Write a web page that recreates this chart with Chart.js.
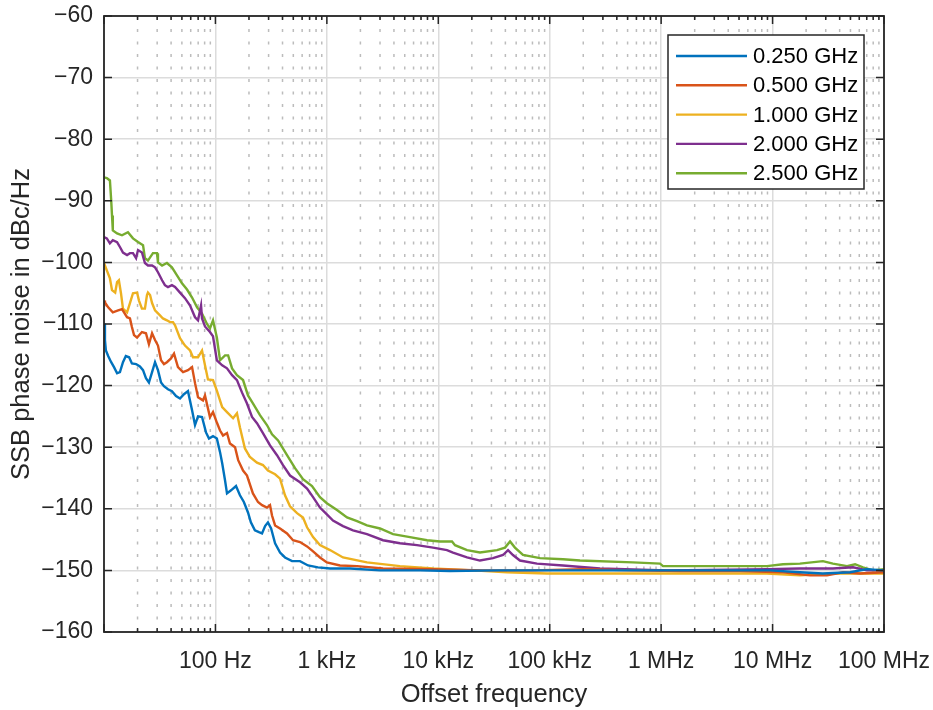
<!DOCTYPE html>
<html>
<head>
<meta charset="utf-8">
<script src="https://cdn.jsdelivr.net/npm/chart.js@4.4.0/dist/chart.umd.min.js"></script>
<style>
  html, body { margin: 0; padding: 0; background: #ffffff; }
  #wrap { width: 933px; height: 710px; }
</style>
</head>
<body>
<div id="wrap"><canvas id="c" width="933" height="710"></canvas></div>
<script>
// ---------------- data ----------------
const seriesLabels = ['0.250 GHz', '0.500 GHz', '1.000 GHz', '2.000 GHz', '2.500 GHz'];
const seriesColors = ['#0072BD', '#D95319', '#EDB120', '#7E2F8E', '#77AC30'];

const freq025 = [10,10.2,10.4,10.9,11.6,12.3,13.1,13.9,14.8,15.7,16.8,17.8,19.4,21.0,22.4,23.8,25.3,27.0,28.7,30.5,32.5,34.5,37.5,40.7,44.3,48.1,52.2,56.7,61.7,65.6,69.8,75.8,82.3,87.5,95.1,103,110,115,122,127,138,153,166,180,196,208,226,246,262,279,296,316,343,380,421,487,574,678,832,1067,1614,3000,6855,12740,35810,123600,427600,1.48e6,5.1e6,9.5e6,1.76e7,2.83e7,4.95e7,7.03e7,1e8];
const val025  = [-109.9,-112.6,-114.3,-115.2,-116.2,-117.0,-118.0,-117.8,-116.2,-115.2,-115.4,-116.4,-116.5,-116.9,-117.5,-118.8,-119.5,-117.8,-116.2,-117.5,-119.5,-120.1,-120.6,-120.9,-121.7,-122.1,-121.4,-120.9,-124.0,-126.4,-125.0,-125.1,-127.6,-128.6,-128.2,-128.6,-130.8,-132.6,-135.4,-137.5,-137.0,-136.3,-137.8,-138.9,-140.6,-142.2,-143.5,-143.8,-144.0,-142.8,-142.2,-143.2,-145.6,-147.1,-147.9,-148.5,-148.5,-149.2,-149.5,-149.7,-149.7,-150.0,-150.0,-150.1,-150.0,-150.0,-150.0,-150.0,-150.0,-150.0,-150.3,-150.5,-150.3,-149.8,-150.0];

const freq05 = [10,10.2,10.9,12.0,13.4,14.5,16.1,17.1,17.8,18.6,19.8,21.9,23.8,25.3,27.0,28.7,30.5,32.5,34.5,36.7,39.9,42.5,46.1,51.2,56.7,61.7,65.6,69.8,77.3,80.6,89.3,95.1,103,110,117,127,135,150,160,177,192,217,241,262,290,309,322,343,380,439,497,574,664,752,867,1000,1312,1866,3192,8974,25180,70800,199000,558500,1.48e6,5.1e6,1.24e7,2.17e7,3.08e7,4.29e7,6.1e7,1e8];
const val05  = [-106.2,-106.5,-107.3,-108.1,-107.8,-107.6,-108.9,-109.1,-110.5,-111.8,-112.2,-111.3,-111.5,-113.3,-111.5,-112.6,-113.5,-115.9,-116.5,-116.2,-115.6,-114.8,-117.0,-117.8,-117.5,-117.0,-119.6,-121.9,-122.4,-121.6,-125.1,-124.3,-126.0,-127.3,-128.1,-127.7,-129.4,-130.0,-132.1,-133.8,-134.6,-137.5,-138.9,-139.4,-139.8,-139.4,-141.1,-142.7,-143.2,-144.0,-145.1,-145.4,-146.1,-146.9,-147.9,-148.7,-149.2,-149.3,-149.7,-149.8,-150.0,-150.0,-149.8,-150.0,-150.1,-150.1,-150.3,-150.8,-150.8,-150.3,-150.5,-150.3];

const freq1 = [10,10.6,11.3,11.8,12.6,13.1,13.6,14.2,14.8,16.1,17.1,18.2,19.8,20.6,21.9,23.3,24.3,24.8,25.9,27.0,28.7,31.8,33.8,36.7,39.1,41.6,43.4,48.1,53.3,59.2,62.9,69.8,75.8,80.6,85.7,95.1,103,115,127,144,156,166,184,204,236,267,296,343,380,421,467,540,611,664,752,867,1067,1396,2291,4530,8974,20510,41400,94600,282600,2.23e6,8.91e6,1.76e7,3.48e7,1e8];
const val1  = [-100.1,-101.3,-102.6,-104.5,-104.9,-103.2,-102.9,-105.0,-107.5,-108.1,-106.6,-105.0,-104.9,-106.2,-107.5,-107.5,-105.3,-104.9,-105.3,-106.6,-107.8,-108.6,-109.1,-109.4,-109.7,-109.7,-110.2,-112.3,-113.5,-114.3,-115.4,-115.4,-114.3,-116.7,-119.0,-119.1,-120.8,-123.5,-124.3,-125.3,-124.5,-126.8,-130.2,-131.6,-132.5,-132.9,-133.8,-134.4,-135.1,-137.8,-139.6,-140.7,-141.4,-143.0,-144.6,-145.9,-146.7,-147.9,-148.7,-149.3,-149.7,-150.0,-150.3,-150.5,-150.5,-150.5,-150.5,-150.8,-150.5,-150.5];

const freq2 = [10,10.6,11.3,12.0,13.1,13.9,14.8,16.1,17.1,18.2,19.4,20.2,21.9,23.3,24.8,27.0,28.7,30.5,33.2,35.2,37.5,40.7,43.4,48.1,53.3,59.2,65.6,69.8,74.3,75.8,80.6,89.3,95.1,103,115,127,141,156,173,192,213,236,267,309,357,404,467,574,664,752,867,1000,1135,1396,1717,2291,3192,4530,6442,8974,11970,13550,18110,23660,30970,38100,42270,46770,54080,76900,131600,282600,1.13e6,8.91e6,1.76e7,3.48e7,5.27e7,7.03e7,1e8];
const val2  = [-95.9,-96.1,-96.9,-96.4,-96.7,-97.5,-98.4,-98.8,-98.5,-98.5,-99.3,-98.0,-98.4,-100.1,-100.5,-100.5,-100.8,-101.6,-102.9,-103.7,-104.0,-103.7,-104.0,-104.9,-105.8,-107.0,-108.9,-109.4,-107.0,-109.1,-110.4,-111.3,-112.0,-115.9,-116.7,-117.2,-118.3,-119.1,-121.1,-122.9,-125.1,-126.1,-127.7,-129.7,-131.3,-132.9,-134.6,-135.7,-136.7,-138.1,-139.8,-140.9,-141.9,-142.8,-143.5,-144.1,-145.1,-145.6,-145.9,-146.3,-146.7,-147.1,-147.9,-148.4,-148.0,-147.5,-146.7,-147.5,-148.4,-148.9,-149.2,-149.7,-150.0,-149.8,-149.7,-149.7,-149.5,-150.0,-150.0];

const freq25 = [10,10.6,11.3,11.6,11.8,12.0,13.1,14.5,16.4,18.2,20.2,22.4,23.3,24.8,27.5,29.9,30.5,33.2,36.7,40.7,45.2,50.1,55.6,61.7,68.4,75.8,84.0,89.3,95.1,103,110,122,130,141,156,177,196,217,251,290,322,365,439,518,611,736,867,1000,1233,1517,1866,2291,3000,3926,5572,7925,10350,13280,14130,18110,23660,33650,39720,44060,48750,57540,81800,131600,187000,558500,977000,1.04e6,2.23e6,8.91e6,1.24e7,1.76e7,2.83e7,3.48e7,4.66e7,5.5e7,6.47e7,7.96e7,1e8];
const val25  = [-86.2,-86.3,-86.7,-89.9,-92.4,-94.8,-95.3,-95.6,-95.1,-96.1,-96.7,-97.2,-99.3,-99.7,-98.5,-98.5,-100.0,-100.5,-100.1,-100.8,-102.1,-103.4,-104.4,-105.7,-107.3,-108.3,-110.0,-110.7,-109.4,-112.2,-115.9,-115.1,-115.1,-117.2,-118.3,-119.1,-121.6,-122.9,-124.8,-126.4,-127.9,-128.9,-131.3,-133.4,-135.2,-136.3,-138.1,-139.1,-140.2,-141.4,-142.0,-142.7,-143.2,-144.1,-144.6,-145.1,-145.3,-145.3,-145.9,-146.7,-147.1,-146.7,-146.3,-145.3,-146.3,-147.5,-148.0,-148.2,-148.4,-148.7,-148.9,-149.3,-149.3,-149.3,-149.0,-148.9,-148.5,-148.9,-149.3,-149.0,-149.5,-150.0,-149.8];

const xMajorValues = [100, 1e3, 1e4, 1e5, 1e6, 1e7, 1e8];
const xMajorLabels = ['100 Hz', '1 kHz', '10 kHz', '100 kHz', '1 MHz', '10 MHz', '100 MHz'];
const xTitle = 'Offset frequency';
const yTitle = 'SSB phase noise in dBc/Hz';

// ---------------- build ----------------
const freqs = [freq025, freq05, freq1, freq2, freq25];
const vals  = [val025, val05, val1, val2, val25];

function pairUp(f, v) {
  const n = Math.min(f.length, v.length);
  const out = [];
  for (let i = 0; i < n; i++) out.push({ x: f[i], y: v[i] });
  return out;
}

const datasets = seriesLabels.map((lab, i) => ({
  label: lab,
  data: pairUp(freqs[i], vals[i]),
  borderColor: seriesColors[i],
  backgroundColor: seriesColors[i],
  borderWidth: 2.4,
  pointRadius: 0,
  tension: 0,
  fill: false
}));

// tick values for the log axis: decades plus 2..9 multiples
const xAllTicks = [];
for (let k = 1; k <= 7; k++) {
  for (let m = 1; m <= 9; m++) xAllTicks.push(m * Math.pow(10, k));
}
xAllTicks.push(1e8);
const isDecade = v => Math.abs(Math.log10(v) - Math.round(Math.log10(v))) < 1e-9;

const AX = '#262626';
const FONT = '"Liberation Sans", Arial, Helvetica, sans-serif';

const matlabAxes = {
  id: 'matlabAxes',
  beforeDatasetsDraw(chart) {
    const { ctx, chartArea: ca, scales: { x } } = chart;
    ctx.save();
    ctx.strokeStyle = '#bcbcbc';
    ctx.lineWidth = 1.5;
    ctx.setLineDash([3, 9.5]);
    xAllTicks.forEach(v => {
      if (isDecade(v)) return;
      const px = x.getPixelForValue(v);
      ctx.beginPath();
      ctx.moveTo(px, ca.bottom);
      ctx.lineTo(px, ca.top);
      ctx.stroke();
    });
    ctx.restore();
  },
  afterDatasetsDraw(chart) {
    const { ctx, chartArea: ca, scales: { x, y } } = chart;
    ctx.save();
    // box
    ctx.strokeStyle = AX;
    ctx.lineWidth = 1.8;
    ctx.setLineDash([]);
    ctx.strokeRect(ca.left, ca.top, ca.right - ca.left, ca.bottom - ca.top);
    // inward ticks
    ctx.lineWidth = 1.5;
    ctx.beginPath();
    y.ticks.forEach(t => {
      const py = y.getPixelForValue(t.value);
      ctx.moveTo(ca.left, py); ctx.lineTo(ca.left + 8, py);
      ctx.moveTo(ca.right, py); ctx.lineTo(ca.right - 8, py);
    });
    xAllTicks.forEach(v => {
      const px = x.getPixelForValue(v);
      const len = isDecade(v) ? 8 : 4;
      ctx.moveTo(px, ca.bottom); ctx.lineTo(px, ca.bottom - len);
      ctx.moveTo(px, ca.top); ctx.lineTo(px, ca.top + len);
    });
    ctx.stroke();

    // legend box (top right, inside plot)
    const bw = 196, bh = 154;
    const bx = ca.right - 20 - bw, by = ca.top + 19;
    ctx.fillStyle = '#ffffff';
    ctx.fillRect(bx, by, bw, bh);
    ctx.strokeStyle = AX;
    ctx.lineWidth = 1.5;
    ctx.strokeRect(bx, by, bw, bh);
    ctx.font = '22px ' + FONT;
    ctx.textBaseline = 'middle';
    ctx.textAlign = 'left';
    chart.data.datasets.forEach((ds, i) => {
      const ry = by + 21 + i * 29.3;
      ctx.strokeStyle = ds.borderColor;
      ctx.lineWidth = 2.4;
      ctx.beginPath();
      ctx.moveTo(bx + 8, ry); ctx.lineTo(bx + 79, ry);
      ctx.stroke();
      ctx.fillStyle = '#000000';
      ctx.fillText(ds.label, bx + 85, ry + 1);
    });
    ctx.restore();
  }
};

new Chart(document.getElementById('c'), {
  type: 'line',
  data: { datasets },
  plugins: [matlabAxes],
  options: {
    responsive: false,
    animation: false,
    devicePixelRatio: 1,
    parsing: true,
    layout: { padding: { top: 16, right: 49, left: 0, bottom: 0 } },
    plugins: { legend: { display: false }, tooltip: { enabled: false } },
    scales: {
      x: {
        type: 'logarithmic',
        min: 10,
        max: 1e8,
        afterBuildTicks: s => { s.ticks = xAllTicks.map(v => ({ value: v })); },
        afterFit: s => { s.height = 78; s.paddingLeft = 0; s.paddingRight = 0; s.paddingTop = 0; s.paddingBottom = 0; },
        border: { display: false },
        grid: {
          drawTicks: false,
          color: c => (c.tick && isDecade(c.tick.value)) ? '#dcdcdc' : 'rgba(0,0,0,0)',
          lineWidth: 1.5
        },
        ticks: {
          autoSkip: false,
          maxRotation: 0,
          minRotation: 0,
          padding: 16,
          color: AX,
          font: { family: FONT, size: 23 },
          callback: v => {
            const i = xMajorValues.indexOf(v);
            return i >= 0 ? xMajorLabels[i] : '';
          }
        },
        title: {
          display: true,
          text: xTitle,
          color: AX,
          font: { family: FONT, size: 25.5 },
          padding: { top: 0, bottom: 0 }
        }
      },
      y: {
        type: 'linear',
        min: -160,
        max: -60,
        afterFit: s => { s.width = 104; s.paddingLeft = 0; s.paddingRight = 0; s.paddingTop = 0; s.paddingBottom = 0; },
        border: { display: false },
        grid: { drawTicks: false, color: '#dcdcdc', lineWidth: 1.5 },
        ticks: {
          stepSize: 10,
          padding: 11,
          color: AX,
          font: { family: FONT, size: 23 },
          callback: v => (v < 0 ? '\u2212' + Math.abs(v) : String(v))
        },
        title: {
          display: true,
          text: yTitle,
          color: AX,
          font: { family: FONT, size: 25.5 },
          padding: { top: 7, bottom: 0 }
        }
      }
    }
  }
});
</script>
</body>
</html>
